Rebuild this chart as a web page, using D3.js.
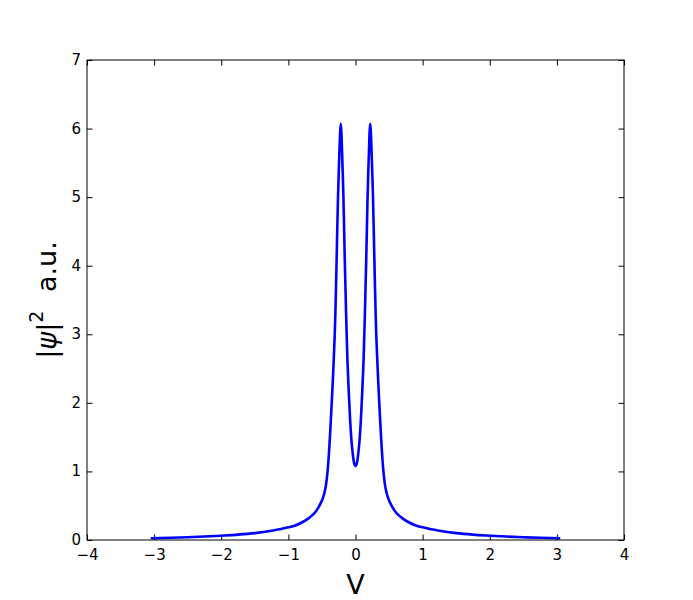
<!DOCTYPE html>
<html>
<head>
<meta charset="utf-8">
<script src="https://cdn.jsdelivr.net/npm/d3@7"></script>
<style>
  body { margin: 0; background: #fff; }
  svg { display: block; }
  text { font-family: "DejaVu Sans", sans-serif; }
</style>
</head>
<body>
<svg id="chart" width="693" height="600"></svg>
<script>
// Data
const xValues = [
  -3.05, -2.75, -2.5, -2.25, -2.0, -1.75, -1.5, -1.25, -1.0, -0.9, -0.8, -0.7, -0.65, -0.6, -0.55,
  -0.5, -0.48, -0.46, -0.44, -0.42, -0.40, -0.39, -0.38, -0.37, -0.36, -0.35, -0.34, -0.33, -0.32,
  -0.31, -0.30, -0.29, -0.28, -0.27, -0.26, -0.25, -0.24, -0.23, -0.22, -0.21, -0.20, -0.19, -0.18,
  -0.17, -0.16, -0.15, -0.14, -0.13, -0.12, -0.11, -0.10, -0.08, -0.06, -0.04, -0.02,
  0,
  0.02, 0.04, 0.06, 0.08, 0.10, 0.11, 0.12, 0.13, 0.14, 0.15, 0.16, 0.17, 0.18, 0.19, 0.20, 0.21,
  0.22, 0.23, 0.24, 0.25, 0.26, 0.27, 0.28, 0.29, 0.30, 0.31, 0.32, 0.33, 0.34, 0.35, 0.36, 0.37,
  0.38, 0.39, 0.40, 0.42, 0.44, 0.46, 0.48, 0.5, 0.55, 0.6, 0.65, 0.7, 0.8, 0.9, 1.0, 1.25, 1.5,
  1.75, 2.0, 2.25, 2.5, 2.75, 3.05
];
const psiValues = [
  0.025, 0.032, 0.04, 0.05, 0.063, 0.078, 0.10, 0.135, 0.185, 0.212, 0.255, 0.315, 0.355, 0.405, 0.48,
  0.575, 0.63, 0.70, 0.80, 0.96, 1.20, 1.35, 1.52, 1.70, 1.89, 2.08, 2.28, 2.50, 2.73,
  2.98, 3.30, 3.70, 4.15, 4.60, 5.02, 5.35, 5.65, 5.92, 6.07, 5.95, 5.65, 5.35, 5.00,
  4.55, 4.10, 3.70, 3.30, 2.95, 2.62, 2.38, 2.15, 1.75, 1.45, 1.25, 1.12,
  1.08,
  1.12, 1.25, 1.45, 1.75, 2.15, 2.38, 2.62, 2.95, 3.30, 3.70, 4.10, 4.55, 5.00, 5.35, 5.65, 5.95,
  6.07, 5.92, 5.65, 5.35, 5.02, 4.60, 4.15, 3.70, 3.30, 2.98, 2.73, 2.50, 2.28, 2.08, 1.89, 1.70,
  1.52, 1.35, 1.20, 0.96, 0.80, 0.70, 0.63, 0.575, 0.48, 0.405, 0.355, 0.315, 0.255, 0.212, 0.185, 0.135, 0.10,
  0.078, 0.063, 0.05, 0.04, 0.032, 0.025
];
const xTicks = [-4, -3, -2, -1, 0, 1, 2, 3, 4];
const yTicks = [0, 1, 2, 3, 4, 5, 6, 7];
const xLabel = "V";
const yLabelMain = "a.u.";

const svg = d3.select("#chart");
const margin = { left: 87, top: 60, right: 69, bottom: 60 };
const W = 693 - margin.left - margin.right;
const H = 600 - margin.top - margin.bottom;

const x = d3.scaleLinear().domain([-4, 4]).range([0, W]);
const y = d3.scaleLinear().domain([0, 7]).range([H, 0]);

const g = svg.append("g").attr("transform", `translate(${margin.left},${margin.top})`);

const tickLen = 5.5;
const fmt = d3.format("");

function styleAxis(sel, showLabels) {
  sel.select(".domain").remove();
  sel.selectAll(".tick line").attr("stroke", "#000").attr("stroke-width", 1);
  sel.selectAll(".tick text").attr("fill", "#000").attr("font-size", "15px")
     .attr("font-family", "DejaVu Sans, sans-serif");
  if (!showLabels) sel.selectAll(".tick text").remove();
}

g.append("g").attr("transform", `translate(0,${H})`)
  .call(d3.axisBottom(x).tickValues(xTicks).tickFormat(fmt).tickSizeInner(-tickLen).tickSizeOuter(0).tickPadding(9))
  .call(s => styleAxis(s, true));
g.append("g")
  .call(d3.axisTop(x).tickValues(xTicks).tickSizeInner(-tickLen).tickSizeOuter(0))
  .call(s => styleAxis(s, false));
g.append("g")
  .call(d3.axisLeft(y).tickValues(yTicks).tickFormat(fmt).tickSizeInner(-tickLen).tickSizeOuter(0).tickPadding(6))
  .call(s => { styleAxis(s, true); s.selectAll(".tick text").attr("dy", "0.3em"); });
g.append("g").attr("transform", `translate(${W},0)`)
  .call(d3.axisRight(y).tickValues(yTicks).tickSizeInner(-tickLen).tickSizeOuter(0))
  .call(s => styleAxis(s, false));

// data line
const pts = xValues.map((v, i) => [v, psiValues[i]]);
g.append("path")
  .datum(pts)
  .attr("fill", "none")
  .attr("stroke", "#0000ff")
  .attr("stroke-width", 2.6)
  .attr("stroke-linejoin", "round")
  .attr("d", d3.line().x(d => x(d[0])).y(d => y(d[1])).curve(d3.curveMonotoneX));

// frame
g.append("rect").attr("x", 0).attr("y", 0).attr("width", W).attr("height", H)
  .attr("fill", "none").attr("stroke", "#000").attr("stroke-width", 1);

// x label
svg.append("text")
  .attr("x", margin.left + W / 2).attr("y", 594)
  .attr("text-anchor", "middle").attr("font-size", "27px").attr("fill", "#000")
  .text(xLabel);

// y label
const yl = svg.append("text")
  .attr("transform", `translate(56,${margin.top + H / 2}) rotate(-90)`)
  .attr("text-anchor", "middle").attr("font-size", "27px").attr("fill", "#000");
yl.append("tspan").text("|");
yl.append("tspan").attr("font-style", "italic").text("ψ");
yl.append("tspan").text("|");
yl.append("tspan").attr("font-size", "19px").attr("dy", "-13").text("2");
yl.append("tspan").attr("dy", "13").attr("dx", "10").text(" " + yLabelMain);
</script>
</body>
</html>
